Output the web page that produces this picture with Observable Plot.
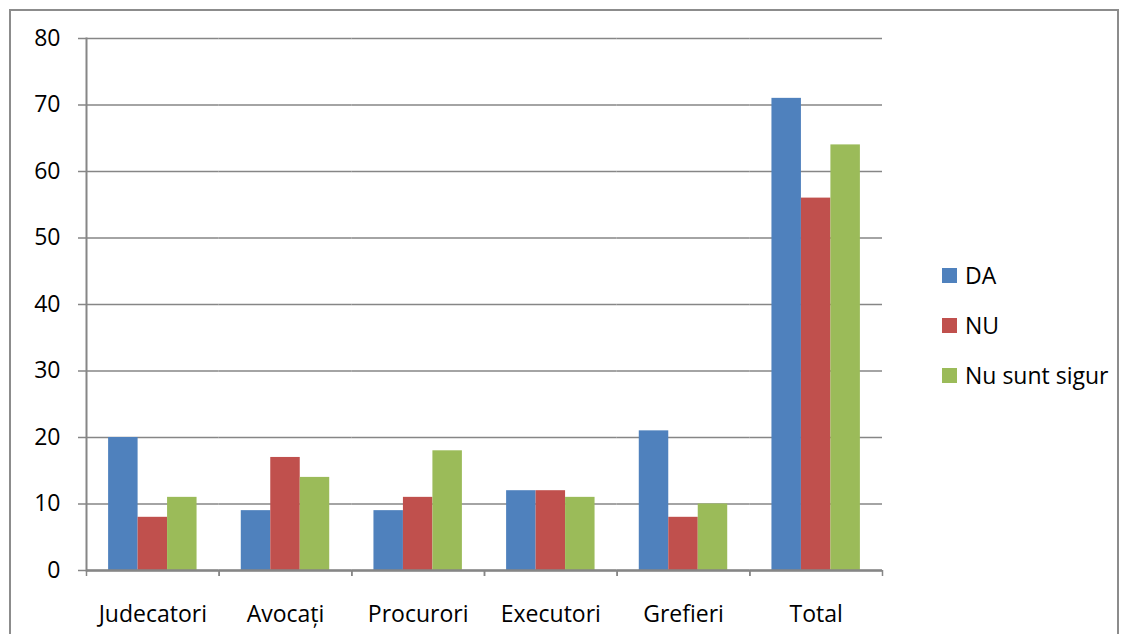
<!DOCTYPE html>
<html>
<head>
<meta charset="utf-8">
<script src="https://cdn.jsdelivr.net/npm/d3@7"></script>
<script src="https://cdn.jsdelivr.net/npm/@observablehq/plot@0.6"></script>
<style>
  html, body { margin: 0; padding: 0; background: #fff; overflow: hidden; }
  #wrap { position: relative; width: 1128px; height: 634px; overflow: hidden; font-family: "Open Sans", sans-serif; }
  #border { position: absolute; left: 9px; top: 9px; width: 1110px; height: 700px; box-sizing: border-box; border: 2px solid #8c8c8c; }
  #chart { position: absolute; left: 0; top: 0; }
  #legend { position: absolute; left: 942px; top: 250px; font-size: 23px; color: #000; }
  .item { display: flex; align-items: center; height: 50px; }
  .sw { width: 15px; height: 15px; margin-right: 8px; }
</style>
</head>
<body>
<div id="wrap">
  <div id="border"></div>
  <div id="chart"></div>
  <div id="legend"></div>
</div>
<script>
const categories = ["Judecatori", "Avocați", "Procurori", "Executori", "Grefieri", "Total"];
const seriesNames = ["DA", "NU", "Nu sunt sigur"];
const seriesColors = ["#4F81BD", "#C0504D", "#9BBB59"];
const daValues = [20, 9, 9, 12, 21, 71];
const nuValues = [8, 17, 11, 12, 8, 56];
const nesigurValues = [11, 14, 18, 11, 10, 64];
const yTicks = [0, 10, 20, 30, 40, 50, 60, 70, 80];

const seriesValues = [daValues, nuValues, nesigurValues];
const rows = [];
categories.forEach((c, i) => {
  seriesNames.forEach((s, j) => rows.push({category: c, series: s, value: seriesValues[j][i]}));
});

const W = 900, H = 634, ML = 86, MR = 18, MT = 38, MB = 64;
const bw = (W - ML - MR) / categories.length;
const gray = "#868686";

const chart = Plot.plot({
  width: W, height: H,
  marginLeft: ML, marginRight: MR, marginTop: MT, marginBottom: MB,
  style: {fontFamily: "'Open Sans', sans-serif", background: "transparent"},
  fx: {domain: categories, padding: 0, label: null, round: false},
  x: {domain: seriesNames, paddingInner: 0, paddingOuter: 0.75, axis: null, label: null, round: false},
  y: {domain: [0, 80], label: null},
  color: {domain: seriesNames, range: seriesColors},
  marks: [
    Plot.gridY(yTicks, {stroke: gray, strokeOpacity: 1, strokeWidth: 1.5}),
    Plot.axisY(yTicks, {tickSize: 8, tickPadding: 18, stroke: gray, strokeWidth: 1.5, color: "#000", fontSize: 23, label: null}),
    Plot.barY(rows, {fx: "category", x: "series", y: "value", fill: "series"}),
    Plot.frame({anchor: "left", facet: "super", stroke: gray, strokeWidth: 2}),
    Plot.ruleY([0], {stroke: gray, strokeWidth: 2.5}),
    Plot.axisFx({anchor: "bottom", tickSize: 6, tickFormat: () => "", dx: -bw / 2, stroke: gray, strokeWidth: 1.5, label: null}),
    Plot.axisFx([categories[categories.length - 1]], {anchor: "bottom", tickSize: 6, tickFormat: () => "", dx: bw / 2, stroke: gray, strokeWidth: 1.5, label: null}),
    Plot.axisFx({anchor: "bottom", tickSize: 0, tickPadding: 35, color: "#000", fontSize: 23, label: null})
  ]
});
document.getElementById("chart").appendChild(chart);

const legend = document.getElementById("legend");
seriesNames.forEach((s, i) => {
  const item = document.createElement("div");
  item.className = "item";
  const sw = document.createElement("div");
  sw.className = "sw";
  sw.style.background = seriesColors[i];
  const t = document.createElement("span");
  t.textContent = s;
  item.appendChild(sw);
  item.appendChild(t);
  legend.appendChild(item);
});
</script>
</body>
</html>
